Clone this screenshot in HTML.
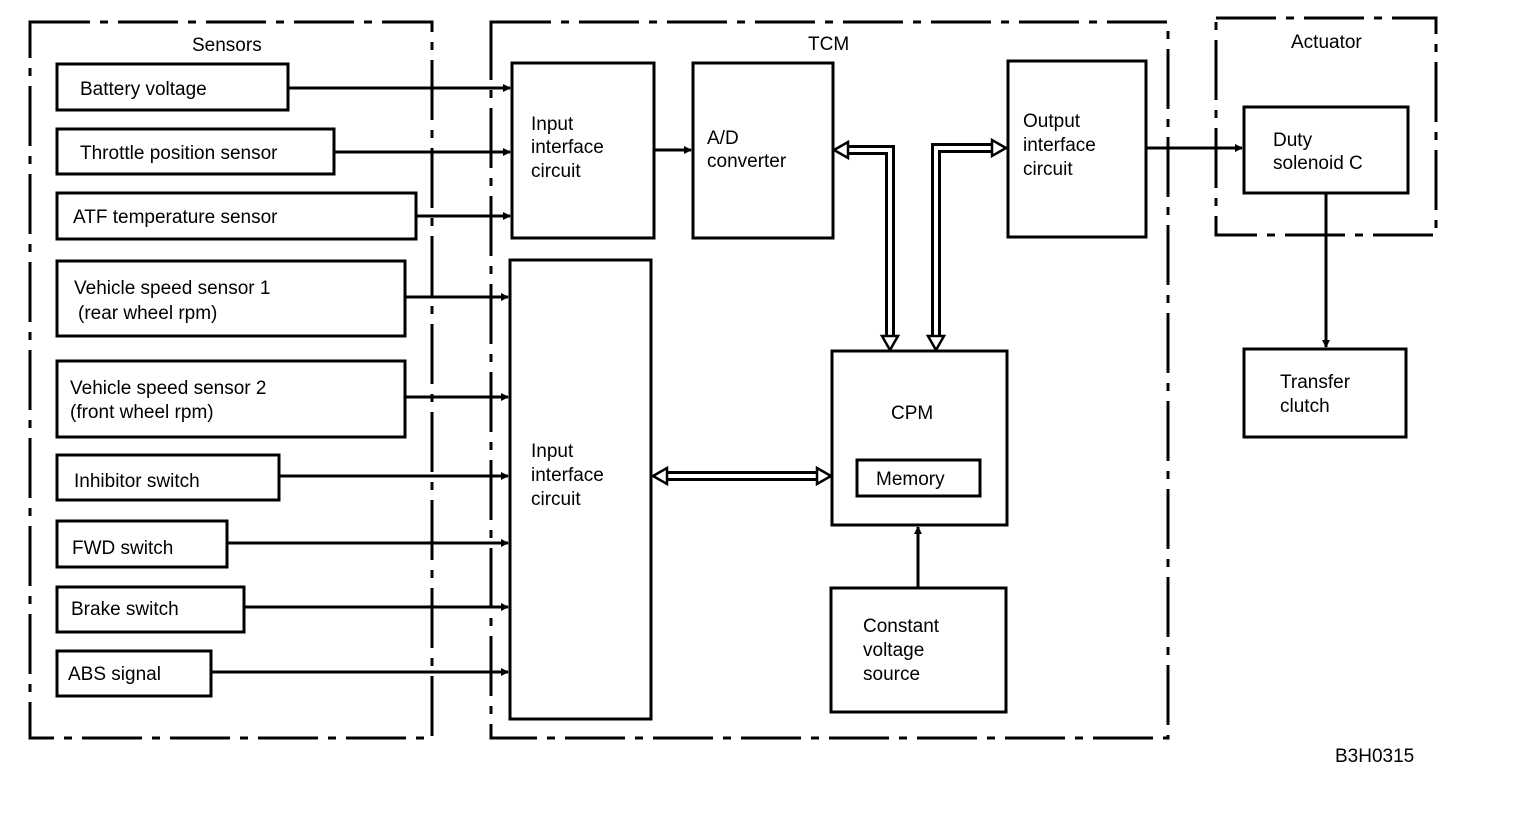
<!DOCTYPE html>
<html><head><style>
body{margin:0;background:#fff;}
svg text{font-family:"Liberation Sans",sans-serif;font-size:19px;fill:#000;}
</style></head><body>
<svg width="1520" height="812" viewBox="0 0 1520 812" xmlns="http://www.w3.org/2000/svg">
<defs>
<marker id="a" markerWidth="8" markerHeight="8" refX="7" refY="4" orient="auto" markerUnits="userSpaceOnUse"><path d="M0,0 L8,4 L0,8 Z" fill="#000"/></marker>
</defs>
<g fill="none" stroke="#000" stroke-width="3" stroke-dasharray="60,10,8,10">
<rect x="30" y="22" width="402" height="716"/>
<rect x="491" y="22" width="677" height="716"/>
<rect x="1216" y="18" width="220" height="217"/>
</g>
<g fill="none" stroke="#000" stroke-width="3">
<rect x="57" y="64" width="231" height="46"/>
<rect x="57" y="129" width="277" height="45"/>
<rect x="57" y="193" width="359" height="46"/>
<rect x="57" y="261" width="348" height="75"/>
<rect x="57" y="361" width="348" height="76"/>
<rect x="57" y="455" width="222" height="45"/>
<rect x="57" y="521" width="170" height="46"/>
<rect x="57" y="587" width="187" height="45"/>
<rect x="57" y="651" width="154" height="45"/>
<rect x="512" y="63" width="142" height="175"/>
<rect x="510" y="260" width="141" height="459"/>
<rect x="693" y="63" width="140" height="175"/>
<rect x="1008" y="61" width="138" height="176"/>
<rect x="832" y="351" width="175" height="174"/>
<rect x="857" y="460" width="123" height="36"/>
<rect x="831" y="588" width="175" height="124"/>
<rect x="1244" y="107" width="164" height="86"/>
<rect x="1244" y="349" width="162" height="88"/>
</g>
<g stroke="#000" stroke-width="3" marker-end="url(#a)">
<line x1="288" y1="88" x2="510" y2="88"/>
<line x1="334" y1="152" x2="510" y2="152"/>
<line x1="416" y1="216" x2="510" y2="216"/>
<line x1="405" y1="297" x2="508" y2="297"/>
<line x1="405" y1="397" x2="508" y2="397"/>
<line x1="279" y1="476" x2="508" y2="476"/>
<line x1="227" y1="543" x2="508" y2="543"/>
<line x1="244" y1="607" x2="508" y2="607"/>
<line x1="211" y1="672" x2="508" y2="672"/>
<line x1="654" y1="150" x2="691" y2="150"/>
<line x1="1146" y1="148" x2="1242" y2="148"/>
<line x1="1326" y1="193" x2="1326" y2="347"/>
<line x1="918" y1="588" x2="918" y2="527"/>
</g>
<g fill="none" stroke-linejoin="miter">
<polyline points="845,150 890,150 890,338" stroke="#000" stroke-width="10"/>
<polyline points="845,150 890,150 890,338" stroke="#fff" stroke-width="4"/>
<polyline points="995,148 936,148 936,338" stroke="#000" stroke-width="10"/>
<polyline points="995,148 936,148 936,338" stroke="#fff" stroke-width="4"/>
<line x1="664" y1="476" x2="820" y2="476" stroke="#000" stroke-width="10"/>
<line x1="664" y1="476" x2="820" y2="476" stroke="#fff" stroke-width="4"/>
</g>
<g fill="#fff" stroke="#000" stroke-width="2.5">
<path d="M834,150 L848,142 L848,158 Z"/>
<path d="M1006,148 L992,140 L992,156 Z"/>
<path d="M890,350 L882,336 L898,336 Z"/>
<path d="M936,350 L928,336 L944,336 Z"/>
<path d="M653,476 L667,468 L667,484 Z"/>
<path d="M831,476 L817,468 L817,484 Z"/>
</g>
<text x="192" y="51">Sensors</text>
<text x="808" y="50">TCM</text>
<text x="1291" y="48">Actuator</text>
<text x="80" y="95">Battery voltage</text>
<text x="80" y="159">Throttle position sensor</text>
<text x="73" y="223">ATF temperature sensor</text>
<text x="74" y="294">Vehicle speed sensor 1</text>
<text x="78" y="319">(rear wheel rpm)</text>
<text x="70" y="394">Vehicle speed sensor 2</text>
<text x="70" y="418">(front wheel rpm)</text>
<text x="74" y="487">Inhibitor switch</text>
<text x="72" y="554">FWD switch</text>
<text x="71" y="615">Brake switch</text>
<text x="68" y="680">ABS signal</text>
<text x="531" y="130">Input</text>
<text x="531" y="153">interface</text>
<text x="531" y="177">circuit</text>
<text x="531" y="457">Input</text>
<text x="531" y="481">interface</text>
<text x="531" y="505">circuit</text>
<text x="707" y="144">A/D</text>
<text x="707" y="167">converter</text>
<text x="1023" y="127">Output</text>
<text x="1023" y="151">interface</text>
<text x="1023" y="175">circuit</text>
<text x="891" y="419">CPM</text>
<text x="876" y="485">Memory</text>
<text x="863" y="632">Constant</text>
<text x="863" y="656">voltage</text>
<text x="863" y="680">source</text>
<text x="1273" y="146">Duty</text>
<text x="1273" y="169">solenoid C</text>
<text x="1280" y="388">Transfer</text>
<text x="1280" y="412">clutch</text>
<text x="1335" y="762">B3H0315</text>
</svg>
</body></html>
